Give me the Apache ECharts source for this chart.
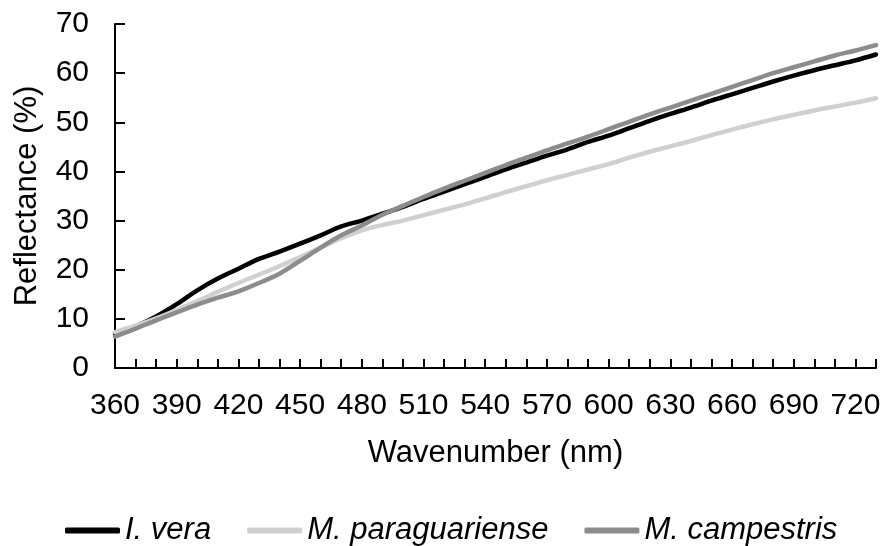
<!DOCTYPE html>
<html>
<head>
<meta charset="utf-8">
<title>Reflectance</title>
<script src="https://cdn.jsdelivr.net/npm/echarts@6/dist/echarts.min.js"></script>
<style>
  html, body { margin: 0; padding: 0; background: #ffffff; }
  #chart { width: 886px; height: 546px; }
</style>
</head>
<body>
<div id="chart"></div>
<script>
// Wavelengths (nm)
const wavelengths = [
  360, 370, 380, 390, 400, 410, 420, 430, 440, 450,
  460, 470, 480, 490, 500, 510, 520, 530, 540, 550,
  560, 570, 580, 590, 600, 610, 620, 630, 640, 650,
  660, 670, 680, 690, 700, 710, 720, 730
];

// Reflectance (%) per species
const ingaVera = [
  7.0, 8.5, 10.5, 13.0, 15.8, 18.2, 20.2, 22.2, 23.7, 25.3,
  27.0, 28.8, 30.0, 31.4, 32.8, 34.4, 35.9, 37.4, 38.9, 40.4,
  41.8, 43.2, 44.5, 46.0, 47.3, 48.8, 50.3, 51.7, 53.0, 54.4,
  55.7, 57.0, 58.3, 59.5, 60.6, 61.6, 62.6, 63.8
];
const mParaguariense = [
  7.3, 8.6, 10.1, 11.8, 13.6, 15.5, 17.3, 19.0, 20.7, 22.6,
  24.5, 26.4, 28.0, 29.1, 30.0, 31.1, 32.2, 33.3, 34.5, 35.8,
  37.0, 38.2, 39.3, 40.4, 41.5, 42.8, 44.0, 45.1, 46.2, 47.4,
  48.5, 49.6, 50.6, 51.5, 52.4, 53.2, 54.0, 54.9
];
const mCampestris = [
  6.4, 8.0, 9.7, 11.3, 12.9, 14.3, 15.6, 17.3, 19.2, 21.8,
  24.5, 27.0, 29.0, 31.2, 33.0, 34.8, 36.5, 38.1, 39.7, 41.3,
  42.8, 44.3, 45.7, 47.1, 48.6, 50.1, 51.6, 53.0, 54.4, 55.8,
  57.2, 58.6, 60.0, 61.2, 62.4, 63.6, 64.6, 65.7
];

const seriesNames = ['I. vera', 'M. paraguariense', 'M. campestris'];
const seriesColors = ['#000000', '#d0d0d0', '#8c8c8c'];

const fontFamily = '"Liberation Sans", Arial, sans-serif';
const tickFontSize = 30;
const titleFontSize = 31;

const chart = echarts.init(document.getElementById('chart'), null, {renderer: 'canvas'});

const makeSeries = (name, data, color) => ({
  name: name,
  type: 'line',
  data: data,
  smooth: 0.3,
  symbol: 'none',
  color: color,
  lineStyle: { width: 4.5, color: color, cap: 'round' },
  emphasis: { disabled: true },
});

const option = {
  animation: false,
  backgroundColor: '#ffffff',
  textStyle: { fontFamily: fontFamily, color: '#000000' },
  grid: {
    left: 115,
    right: 10,
    top: 24,
    height: 344,
  },
  legend: {
    left: 60,
    top: 510,
    icon: 'roundRect',
    itemWidth: 55,
    itemHeight: 6,
    itemGap: 36,
    data: seriesNames,
    textStyle: {
      fontFamily: fontFamily,
      fontSize: titleFontSize,
      fontStyle: 'italic',
      color: '#000000',
    },
  },
  xAxis: {
    type: 'category',
    data: wavelengths,
    boundaryGap: false,
    name: 'Wavenumber (nm)',
    nameLocation: 'middle',
    nameGap: 70,
    nameTextStyle: { fontFamily: fontFamily, fontSize: titleFontSize, color: '#000000' },
    axisLine: { lineStyle: { color: '#000000', width: 2 } },
    axisTick: { inside: true, length: 9, interval: 0, lineStyle: { color: '#000000', width: 2 } },
    axisLabel: {
      interval: 2,
      margin: 23,
      fontFamily: fontFamily,
      fontSize: tickFontSize,
      color: '#000000',
    },
    splitLine: { show: false },
  },
  yAxis: {
    type: 'value',
    min: 0,
    max: 70,
    interval: 10,
    name: 'Reflectance (%)',
    nameLocation: 'middle',
    nameGap: 72,
    nameTextStyle: { fontFamily: fontFamily, fontSize: titleFontSize, color: '#000000' },
    axisLine: { show: true, lineStyle: { color: '#000000', width: 2 } },
    axisTick: { show: true, inside: true, length: 10, lineStyle: { color: '#000000', width: 2 } },
    axisLabel: {
      margin: 26,
      fontFamily: fontFamily,
      fontSize: tickFontSize,
      color: '#000000',
    },
    splitLine: { show: false },
  },
  series: [
    makeSeries(seriesNames[0], ingaVera, seriesColors[0]),
    makeSeries(seriesNames[1], mParaguariense, seriesColors[1]),
    makeSeries(seriesNames[2], mCampestris, seriesColors[2]),
  ],
};

chart.setOption(option);
</script>
</body>
</html>
